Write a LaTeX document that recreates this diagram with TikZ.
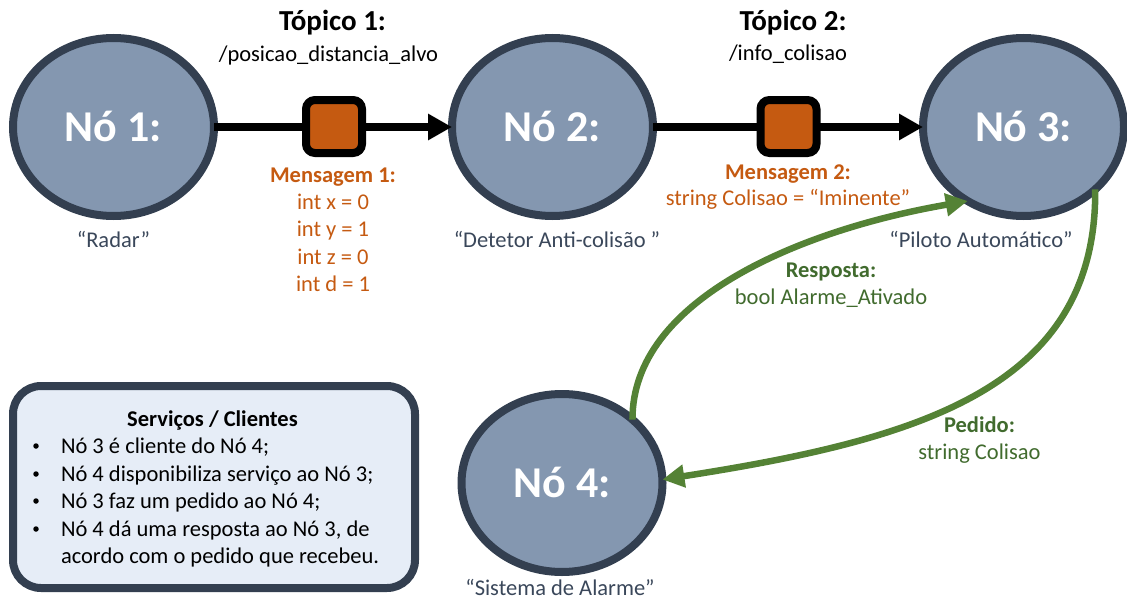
\documentclass[tikz,border=0pt]{standalone}
\usepackage{fontspec}
\setmainfont{Carlito}
\usetikzlibrary{shapes.geometric,arrows.meta}

\definecolor{nodefill}{HTML}{8497B0}
\definecolor{nodeborder}{HTML}{333F50}
\definecolor{labelgray}{HTML}{3A475A}
\definecolor{msgorange}{HTML}{C55A11}
\definecolor{srvgreen}{HTML}{548235}
\definecolor{srvtext}{HTML}{416B2E}
\definecolor{boxfill}{HTML}{E6EDF7}

\begin{document}
\begin{tikzpicture}[x=1pt,y=-1pt,
  every node/.style={inner sep=0pt, outer sep=0pt},
  normal/.style={font=\fontsize{22.5}{27}\selectfont},
  rosnode/.style={ellipse, draw=nodeborder, fill=nodefill, line width=8pt,
    minimum width=201pt, minimum height=178pt, text=white,
    text height=28pt, text depth=0pt,
    font=\fontsize{44}{44}\selectfont\bfseries},
  nodelabel/.style={normal, anchor=base, text=labelgray},
  topictitle/.style={anchor=base, font=\fontsize{29}{32}\selectfont\bfseries},
  topicname/.style={normal, anchor=base},
  msgbox/.style={draw=black, fill=msgorange, line width=8pt, rounded corners=9pt,
    minimum width=56pt, minimum height=53pt},
  msgtitle/.style={anchor=base, text=msgorange, font=\fontsize{22.5}{27}\selectfont\bfseries},
  msgfield/.style={normal, anchor=base, text=msgorange},
  pubarrow/.style={line width=8pt, draw=black, -{Triangle[length=24pt,width=25pt]}},
  srvarrow/.style={line width=6.5pt, draw=srvgreen, -{Triangle[length=22pt,width=22pt]}},
  srvtitle/.style={anchor=base, text=srvtext, font=\fontsize{22.5}{27}\selectfont\bfseries},
  srvfield/.style={normal, anchor=base, text=srvtext},
  infobox/.style={draw=nodeborder, fill=boxfill, line width=8pt, rounded corners=28pt,
    minimum width=402pt, minimum height=202pt},
  infotitle/.style={anchor=base, font=\fontsize{22.5}{27}\selectfont\bfseries},
  infoline/.style={normal, anchor=base west},
  infobullet/.style={fill=black, circle, minimum size=5.5pt}
]
\useasboundingbox (0,0) rectangle (1127,602);

% ROS nodes
\node[rosnode] (n1) at (113.5,127) {Nó 1:};
\node[rosnode] (n2) at (552.5,127) {Nó 2:};
\node[rosnode] (n3) at (1023.5,127) {Nó 3:};
\node[rosnode] (n4) at (562,483) {Nó 4:};

% names under the nodes
\node[nodelabel] (l1) at (113.5,247) {“Radar”};
\node[nodelabel] (l2) at (557,247) {“Detetor Anti-colisão ”};
\node[nodelabel] (l3) at (981,247) {“Piloto Automático”};
\node[nodelabel] (l4) at (560,595) {“Sistema de Alarme”};

% topics with their messages
\draw[pubarrow] (n1) -- (n2);
\node[msgbox] (m1) at (334,126.5) {};
\draw[pubarrow] (n2) -- (n3);
\node[msgbox] (m2) at (788.5,126.5) {};

\node[topictitle] (t1) at (332.5,31) {Tópico 1:};
\node[topicname] (tn1) at (328.5,62) {/posicao\_distancia\_alvo};
\node[topictitle] (t2) at (793,31) {Tópico 2:};
\node[topicname] (tn2) at (788,61) {/info\_colisao};

\node[msgtitle] (mt1) at (333,182) {Mensagem 1:};
\node[msgfield] (mf1) at (333,209) {int x = 0};
\node[msgfield] (mf2) at (333,236.5) {int y = 1};
\node[msgfield] (mf3) at (333,264) {int z = 0};
\node[msgfield] (mf4) at (333,291) {int d = 1};
\node[msgtitle] (mt2) at (788,179) {Mensagem 2:};
\node[msgfield] (mf5) at (788,205) {string Colisao = “Iminente”};

% service: request and response
\draw[srvarrow] (n3.319) .. controls (1097,390) and (915,440) .. (n4.2);
\draw[srvarrow] (n4.42) .. controls (632,300) and (800,230) .. (n3.233);

\node[srvtitle] (rt) at (831,277) {Resposta:};
\node[srvfield] (rf) at (831,304) {bool Alarme\_Ativado};
\node[srvtitle] (pt) at (979.5,432) {Pedido:};
\node[srvfield] (pf) at (979.5,459) {string Colisao};

% legend box
\node[infobox] (box) at (214,487) {};
\node[infotitle] (bt) at (212.5,426) {Serviços / Clientes};
\node[infobullet] (b1) at (36,446) {};
\node[infoline] (i1) at (61,453) {Nó 3 é cliente do Nó 4;};
\node[infobullet] (b2) at (36,474) {};
\node[infoline] (i2) at (61,481) {Nó 4 disponibiliza serviço ao Nó 3;};
\node[infobullet] (b3) at (36,501) {};
\node[infoline] (i3) at (61,508) {Nó 3 faz um pedido ao Nó 4;};
\node[infobullet] (b4) at (36,529) {};
\node[infoline] (i4) at (61,536) {Nó 4 dá uma resposta ao Nó 3, de};
\node[infoline] (i5) at (61,563) {acordo com o pedido que recebeu.};
\end{tikzpicture}
\end{document}
